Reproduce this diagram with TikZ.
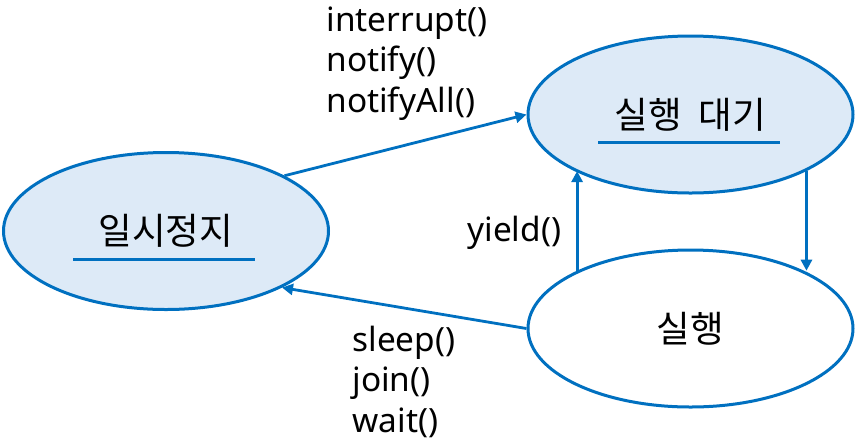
\documentclass[tikz,border=0pt]{standalone}
\usepackage{fontspec}
\setmainfont{Noto Sans}
\newfontfamily\krfont{Noto Sans CJK KR}
\usetikzlibrary{shapes.geometric,arrows.meta}
\definecolor{lineblue}{HTML}{0070C0}
\definecolor{fillblue}{HTML}{DDEAF7}
\tikzset{
  state/.style={ellipse, draw=lineblue, line width=1.5pt, inner sep=0pt,
    minimum width=162.5pt, minimum height=78.5pt,
    font=\krfont\fontsize{18.3}{20}\selectfont},
  waitstate/.style={state, fill=fillblue},
  runstate/.style={state, fill=white},
  conn/.style={draw=lineblue, line width=1.4pt, -{Triangle[length=5.5pt,width=5.5pt]}},
  uline/.style={draw=lineblue, line width=1.5pt},
  lbl/.style={inner sep=0pt, align=left, font=\fontsize{16.7}{20.2}\selectfont}
}
\begin{document}
\begin{tikzpicture}[x=0.5pt,y=-0.5pt]
\useasboundingbox (0,0) rectangle (858,441);
\node[waitstate] (A) at (166,231) {일시정지};
\node[waitstate] (B) at (690.5,114.5) {실행\hspace{0.45em}대기};
\node[runstate]  (C) at (690.5,328.5) {실행};
\draw[uline] (73,259) -- (255,259);
\draw[uline] (598,142) -- (780,142);
\draw[conn] (A.25) -- (B.west);
\draw[conn] (C.west) -- (A.-26);
\draw[conn] (C.153) -- (C.153 |- B.206);
\draw[conn] (B.-26) -- (B.-26 |- C.27);
\node[lbl, anchor=base west] (l1) at (326,112) {interrupt()\\notify()\\notifyAll()};
\node[lbl, anchor=base west] (l2) at (467,241) {yield()};
\node[lbl, anchor=base west] (l3) at (352,432) {sleep()\\join()\\wait()};
\end{tikzpicture}
\end{document}
